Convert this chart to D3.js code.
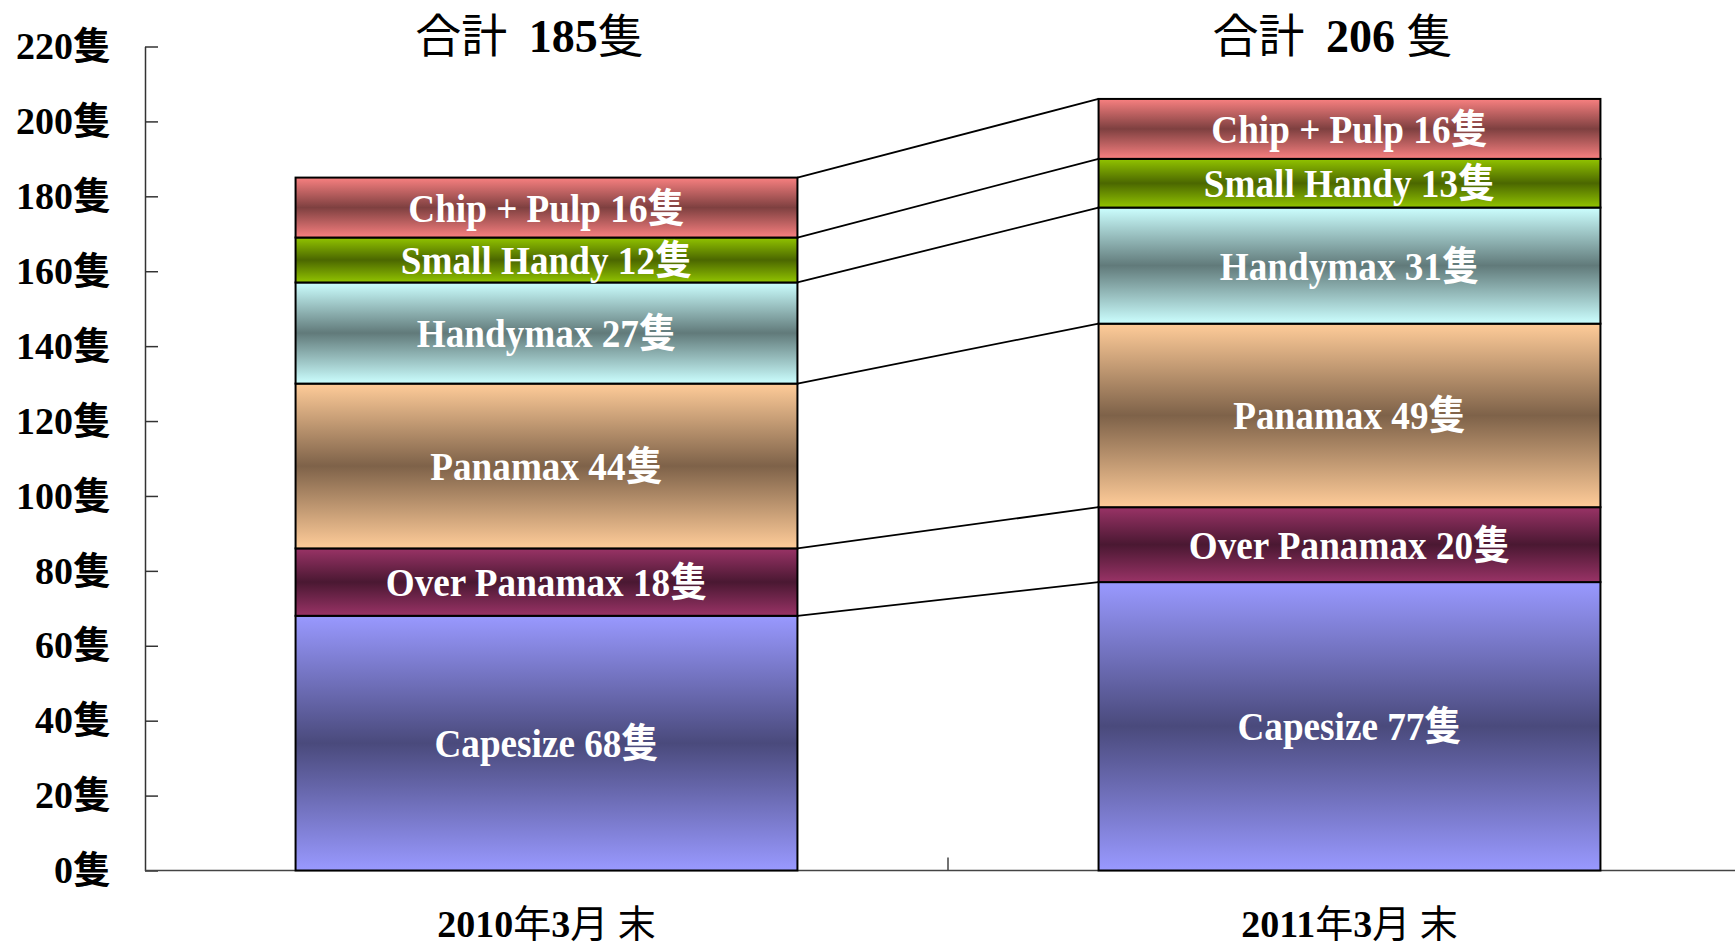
<!DOCTYPE html>
<html>
<head>
<meta charset="utf-8">
<script src="https://cdn.jsdelivr.net/npm/d3@7"></script>
<style>
  body { margin: 0; background: #fff; }
  svg { display: block; }
</style>
</head>
<body>
<svg id="chart" width="1735" height="948"></svg>
<script>
// ---------------- data ----------------
const categories = ["2010年3月 末", "2011年3月 末"];
const seriesNames = ["Capesize", "Over Panamax", "Panamax", "Handymax", "Small Handy", "Chip + Pulp"];
const values2010 = [68, 18, 44, 27, 12, 16];
const values2011 = [77, 20, 49, 31, 13, 16];
const totalTitles = ["合計 185隻", "合計 206 隻"];
const yTickValues = [0, 20, 40, 60, 80, 100, 120, 140, 160, 180, 200, 220];
const yTickLabels = ["0隻", "20隻", "40隻", "60隻", "80隻", "100隻", "120隻", "140隻", "160隻", "180隻", "200隻", "220隻"];
const lightColors = ["#9999FF", "#993366", "#FFCC99", "#CCFFFF", "#92C400", "#F88080"];
const darkColors  = ["#4A4A7C", "#4A1832", "#7E6249", "#617A7A", "#4B6700", "#7E4040"];

// ---------------- setup ----------------
const svg = d3.select("#chart");
const SERIF = "'Liberation Serif', 'Times New Roman', serif";
const CJK = "'Noto Sans CJK JP', 'Noto Sans CJK TC', sans-serif";

const y = d3.scaleLinear().domain([0, 220]).range([870.5, 46.5]);
const x = d3.scaleBand().domain(categories).range([145, 1751])
  .paddingInner(0.375).paddingOuter(0.1875);
const bw = x.bandwidth();

const rows = categories.map((c, ci) => {
  const vals = ci === 0 ? values2010 : values2011;
  const r = { cat: c };
  seriesNames.forEach((s, i) => r[s] = vals[i]);
  return r;
});
const stacked = d3.stack().keys(seriesNames)(rows);

// split text into CJK / non-CJK runs
function addRuns(textSel, str, latinWeight, cjkWeight, spaceGap) {
  const parts = str.split(/([\u3000-\u9fff\uff00-\uffef]+)/).filter(p => p.length);
  parts.forEach(p => {
    const isCjk = /[\u3000-\u9fff\uff00-\uffef]/.test(p);
    const ts = textSel.append("tspan")
      .attr("font-family", isCjk ? CJK : SERIF)
      .attr("font-weight", isCjk ? cjkWeight : latinWeight)
      .text(p);
    if (spaceGap && !isCjk && p.startsWith(" ")) ts.attr("dx", spaceGap);
  });
}

// gradients
const defs = svg.append("defs");
seriesNames.forEach((s, i) => {
  const g = defs.append("linearGradient").attr("id", "grad" + i)
    .attr("x1", 0).attr("y1", 0).attr("x2", 0).attr("y2", 1);
  g.append("stop").attr("offset", "0%").attr("stop-color", lightColors[i]);
  g.append("stop").attr("offset", "50%").attr("stop-color", darkColors[i]);
  g.append("stop").attr("offset", "100%").attr("stop-color", lightColors[i]);
});

// ---------------- axes ----------------
const yAxis = d3.axisLeft(y).tickValues(yTickValues)
  .tickFormat((d, i) => yTickLabels[i])
  .tickSizeInner(-13).tickSizeOuter(0).tickPadding(34);
const yg = svg.append("g").attr("transform", "translate(145,0)").call(yAxis);
yg.select(".domain").attr("stroke", "#333").attr("stroke-width", 1.5);
yg.selectAll(".tick line").attr("stroke", "#333").attr("stroke-width", 1.5);
yg.selectAll(".tick text").each(function(d, i) {
  const t = d3.select(this);
  const str = t.text();
  t.text(null).attr("font-size", 38).attr("fill", "#000");
  addRuns(t, str, "bold", 700);
});

const xAxis = d3.axisBottom(x).tickSize(0).tickPadding(0);
const xg = svg.append("g").attr("transform", `translate(0,${y(0)})`).call(xAxis);
xg.select(".domain").attr("stroke", "#444").attr("stroke-width", 1.5).attr("d", `M145,0H1735`);
xg.selectAll(".tick text").each(function() {
  const t = d3.select(this);
  const str = t.text();
  t.text(null).attr("font-size", 38).attr("fill", "#000").attr("y", 66).attr("dy", 0);
  addRuns(t, str, "bold", 400);
});
// category boundary tick
const boundary = (x(categories[0]) + bw + x(categories[1])) / 2;
xg.append("line").attr("x1", boundary).attr("x2", boundary)
  .attr("y1", 0).attr("y2", -13).attr("stroke", "#444").attr("stroke-width", 1.5);

// ---------------- connector lines ----------------
svg.append("g").selectAll("line").data(stacked).join("line")
  .attr("x1", x(categories[0]) + bw)
  .attr("y1", s => y(s[0][1]))
  .attr("x2", x(categories[1]))
  .attr("y2", s => y(s[1][1]))
  .attr("stroke", "#000").attr("stroke-width", 1.8);

// ---------------- bars ----------------
const layer = svg.append("g").selectAll("g").data(stacked).join("g")
  .attr("fill", (s, i) => `url(#grad${i})`);
layer.selectAll("rect").data(s => s).join("rect")
  .attr("x", d => x(d.data.cat))
  .attr("y", d => y(d[1]))
  .attr("width", bw)
  .attr("height", d => y(d[0]) - y(d[1]))
  .attr("stroke", "#000").attr("stroke-width", 2);

// segment labels
const labelG = svg.append("g");
stacked.forEach((s, si) => {
  s.forEach(d => {
    const cx = x(d.data.cat) + bw / 2;
    const cy = (y(d[0]) + y(d[1])) / 2;
    const t = labelG.append("text")
      .attr("transform", `translate(${cx},${cy}) scale(0.93,1)`)
      .attr("text-anchor", "middle").attr("dy", "0.35em")
      .attr("font-size", 40).attr("fill", "#fff");
    addRuns(t, `${seriesNames[si]} ${d.data[seriesNames[si]]}隻`, "bold", 700);
  });
});

// titles
categories.forEach((c, i) => {
  const cx = x(c) + bw / 2 - 17;
  const t = svg.append("text")
    .attr("transform", `translate(${cx},52)`)
    .attr("text-anchor", "middle").attr("font-size", 46).attr("fill", "#000");
  addRuns(t, totalTitles[i], "bold", 400, 10);
});
</script>
</body>
</html>
